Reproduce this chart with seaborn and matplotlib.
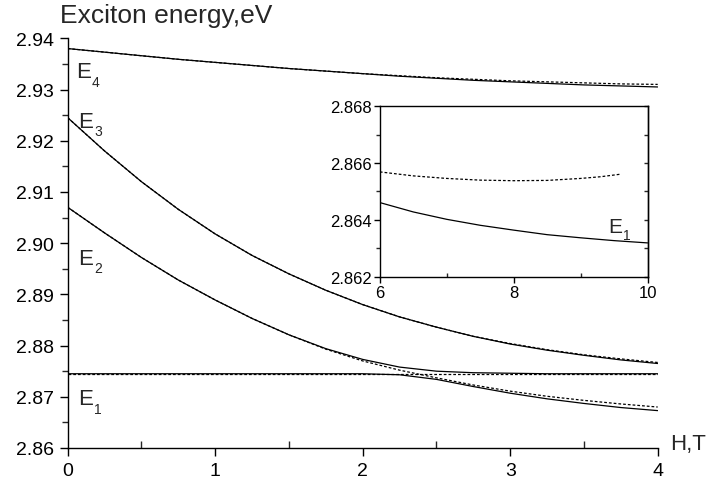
import matplotlib
matplotlib.use("Agg")
import matplotlib.pyplot as plt
import matplotlib.transforms as mtrans
import seaborn as sns
from matplotlib.ticker import FixedLocator

# ---- data ----
H = [0, 0.25, 0.5, 0.75, 1.0, 1.25, 1.5, 1.75, 2.0, 2.25, 2.5, 2.75, 3.0, 3.25, 3.5, 3.75, 4.0]

E4_solid = [2.9380, 2.9373, 2.9366, 2.9359, 2.9353, 2.9347, 2.9341, 2.9336, 2.9331, 2.9326,
            2.9322, 2.9318, 2.9315, 2.9312, 2.9309, 2.9307, 2.9305]
E4_dash = [2.9380, 2.9373, 2.9366, 2.9359, 2.9353, 2.9347, 2.9341, 2.9336, 2.9331, 2.9327,
           2.9323, 2.9320, 2.9317, 2.9315, 2.9313, 2.9311, 2.9310]

E3_solid = [2.9245, 2.9180, 2.9120, 2.9066, 2.9018, 2.8976, 2.8940, 2.8908, 2.8880, 2.8856,
            2.8836, 2.8818, 2.8803, 2.8791, 2.8781, 2.8772, 2.8765]
E3_dash = [2.9245, 2.9180, 2.9120, 2.9066, 2.9018, 2.8976, 2.8940, 2.8908, 2.8880, 2.8856,
           2.8836, 2.8818, 2.8804, 2.8792, 2.8782, 2.8774, 2.8767]

E2_solid = [2.9070, 2.9020, 2.8972, 2.8928, 2.8889, 2.8853, 2.8821, 2.8794, 2.8773, 2.8758,
            2.8750, 2.8747, 2.8746, 2.8745, 2.8745, 2.8745, 2.8745]
E2_dash = [2.9070, 2.9020, 2.8972, 2.8928, 2.8889, 2.8853, 2.8821, 2.8793, 2.8770, 2.8752,
           2.8737, 2.8723, 2.8711, 2.8701, 2.8693, 2.8686, 2.8680]

E1_solid = [2.8745, 2.8745, 2.8745, 2.8745, 2.8745, 2.8745, 2.8745, 2.8745, 2.8745, 2.8743,
            2.8734, 2.8720, 2.8707, 2.8696, 2.8687, 2.8679, 2.8673]
E1_dash = [2.8745] * 17

# inset (H = 6..10)
H_in_solid = [6.0, 6.5, 7.0, 7.5, 8.0, 8.5, 9.0, 9.5, 10.0]
E1_in_solid = [2.86461, 2.86428, 2.86402, 2.86381, 2.86364, 2.86348, 2.86337, 2.86327, 2.86319]
H_in_dash = [6.0, 6.5, 7.0, 7.5, 8.0, 8.5, 9.0, 9.3, 9.6]
E1_in_dash = [2.86569, 2.86555, 2.86546, 2.86540, 2.86538, 2.86539, 2.86546, 2.86552, 2.86561]

x_ticks = [0, 1, 2, 3, 4]
x_minor = [0.5, 1.5, 2.5, 3.5]
y_ticks = [2.86, 2.87, 2.88, 2.89, 2.90, 2.91, 2.92, 2.93, 2.94]
y_labels = ["2.86", "2.87", "2.88", "2.89", "2.90", "2.91", "2.92", "2.93", "2.94"]
y_minor = [2.865, 2.875, 2.885, 2.895, 2.905, 2.915, 2.925, 2.935]
xi_ticks = [6, 8, 10]
xi_minor = [7, 9]
yi_ticks = [2.862, 2.864, 2.866, 2.868]
yi_labels = ["2.862", "2.864", "2.866", "2.868"]
yi_minor = [2.863, 2.865, 2.867]

title = "Exciton energy,eV"
xlabel = "H,T"

# ---- style ----
sns.set_style("ticks")
plt.rcParams["font.family"] = ["Liberation Sans", "DejaVu Sans"]

fig = plt.figure(figsize=(7.06, 4.89), dpi=100)
ax = fig.add_axes([0.0959, 0.0818, 0.8357, 0.8378])

lw = 0.9
dash = (0, (2.2, 1.6))
for ys in (E4_dash, E3_dash, E2_dash, E1_dash):
    sns.lineplot(x=H, y=ys, ax=ax, color="black", lw=lw, linestyle=dash)
for ys in (E4_solid, E3_solid, E2_solid, E1_solid):
    sns.lineplot(x=H, y=ys, ax=ax, color="black", lw=lw)

ax.set_xlim(0, 4)
ax.set_ylim(2.86, 2.94)
ax.xaxis.set_major_locator(FixedLocator(x_ticks))
ax.xaxis.set_minor_locator(FixedLocator(x_minor))
ax.yaxis.set_major_locator(FixedLocator(y_ticks))
ax.yaxis.set_minor_locator(FixedLocator(y_minor))
ax.set_xticklabels([str(v) for v in x_ticks])
ax.set_yticklabels(y_labels)
sns.despine(ax=ax)
for s in ("left", "bottom"):
    ax.spines[s].set_linewidth(1.0)
    ax.spines[s].set_color("black")
ax.tick_params(axis="both", which="major", direction="out", length=6, width=1.0,
               labelsize=14, colors="black", pad=4)
ax.tick_params(axis="x", which="minor", direction="in", length=5, width=1.0)
ax.tick_params(axis="y", which="minor", direction="out", length=4, width=1.0)
ax.set_xlabel("")
ax.set_ylabel("")

fig.text(60 / 706, 1 - 23 / 489, title, fontsize=19, ha="left", va="baseline")
fig.text(670 / 706, 1 - 450 / 489, xlabel, fontsize=16, ha="left", va="baseline")

# curve labels: "E" with a lowered subscript digit
def elabel(a, x, y, n, fs=16, sfs=10, dx_pt=11.5, dy_pt=-6.0):
    a.text(x, y, "E", fontsize=fs, ha="left", va="baseline")
    tr = mtrans.offset_copy(a.transData, fig=fig, x=dx_pt, y=dy_pt, units="points")
    a.text(x, y, n, fontsize=sfs, ha="left", va="baseline", transform=tr)

elabel(ax, 0.055, 2.9324, "4")
elabel(ax, 0.07, 2.9227, "3")
elabel(ax, 0.07, 2.8960, "2")
elabel(ax, 0.07, 2.8685, "1")

# ---- inset ----
axi = fig.add_axes([0.538, 0.4321, 0.3792, 0.3485])
sns.lineplot(x=H_in_dash, y=E1_in_dash, ax=axi, color="black", lw=lw, linestyle=dash)
sns.lineplot(x=H_in_solid, y=E1_in_solid, ax=axi, color="black", lw=lw)
axi.set_xlim(6, 10)
axi.set_ylim(2.862, 2.868)
axi.xaxis.set_major_locator(FixedLocator(xi_ticks))
axi.xaxis.set_minor_locator(FixedLocator(xi_minor))
axi.yaxis.set_major_locator(FixedLocator(yi_ticks))
axi.yaxis.set_minor_locator(FixedLocator(yi_minor))
axi.set_xticklabels([str(v) for v in xi_ticks])
axi.set_yticklabels(yi_labels)
for s in axi.spines.values():
    s.set_linewidth(1.0)
    s.set_color("black")
axi.tick_params(axis="both", which="major", direction="out", length=4, width=1.0,
                labelsize=12, colors="black", pad=2)
axi.tick_params(axis="x", which="minor", direction="in", length=3, width=1.0)
axi.tick_params(axis="y", which="minor", direction="out", length=3, width=1.0)
sec = axi.secondary_yaxis("right")
sec.yaxis.set_major_locator(FixedLocator(yi_ticks + yi_minor))
sec.tick_params(direction="in", length=3, width=1.0, labelright=False)
sec.spines["right"].set_linewidth(1.0)
axi.set_xlabel("")
axi.set_ylabel("")
elabel(axi, 9.42, 2.86356, "1", fs=15, sfs=10, dx_pt=10.5, dy_pt=-5.0)

fig.savefig("out.png", dpi=100)
